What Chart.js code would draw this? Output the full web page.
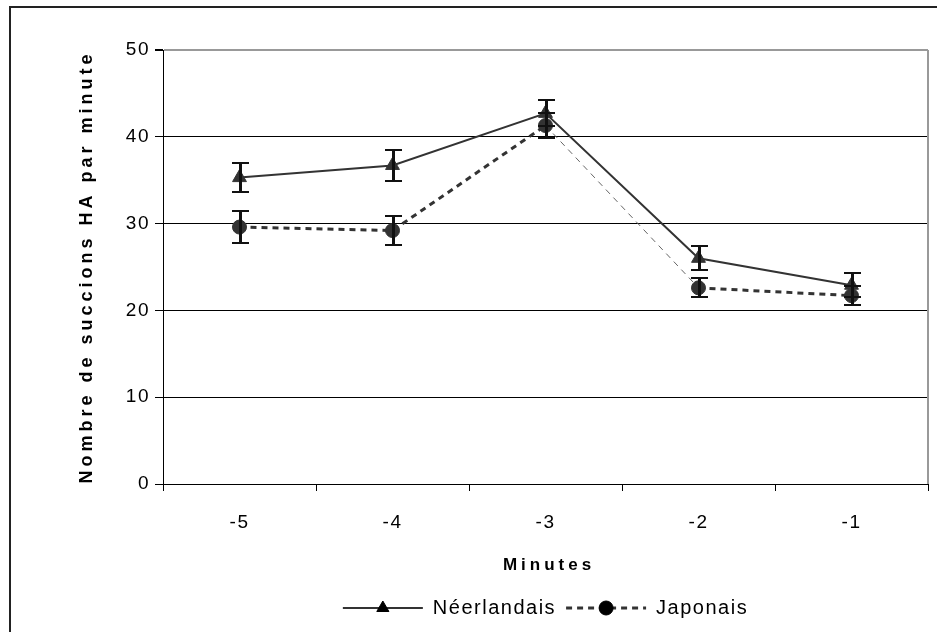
<!DOCTYPE html>
<html>
<head>
<meta charset="utf-8">
<script src="https://cdn.jsdelivr.net/npm/chart.js@4.4.1/dist/chart.umd.min.js"></script>
<style>
    html, body { margin: 0; padding: 0; background: #fff; }
    #wrap { width: 937px; height: 632px; }
</style>
</head>
<body>
<div id="wrap"><canvas id="myChart" width="937" height="632"></canvas></div>
<script>
/* donnees */
const minutes = ['-5', '-4', '-3', '-2', '-1'];
const neerlandais = [35.3, 36.7, 42.7, 26.0, 22.9];
const neerlandaisErr = [1.7, 1.8, 1.5, 1.4, 1.4];
const japonais = [29.6, 29.2, 41.3, 22.6, 21.7];
const japonaisErr = [1.8, 1.7, 1.4, 1.1, 1.1];
const yTitle = 'Nombre de succions HA par minute';
const xTitle = 'Minutes';

const FONT = '"Liberation Sans", Arial, sans-serif';
const INK = '#333';
const SPACING = '1.5px';

/* cadre exterieur + espacement des lettres des graduations / legende */
const framePlugin = {
    id: 'frame',
    beforeUpdate(chart) {
        chart.ctx.letterSpacing = SPACING;
    },
    beforeDraw(chart) {
        const ctx = chart.ctx;
        ctx.save();
        ctx.fillStyle = '#fff';
        ctx.fillRect(0, 0, chart.width, chart.height);
        ctx.strokeStyle = '#222';
        ctx.lineWidth = 2;
        ctx.strokeRect(10, 7, chart.width + 20, chart.height + 20);
        ctx.restore();
        ctx.letterSpacing = SPACING;
    },
    beforeDatasetsDraw(chart) {
        chart.ctx.letterSpacing = '0px';
    },
    afterDraw(chart) {
        // bord droit gris de la zone de trace
        const a = chart.chartArea;
        const ctx = chart.ctx;
        ctx.save();
        ctx.strokeStyle = '#999';
        ctx.lineWidth = 2;
        ctx.beginPath();
        ctx.moveTo(a.right, a.top);
        ctx.lineTo(a.right, a.bottom);
        ctx.stroke();
        ctx.restore();
    }
};

/* barres d'erreur */
const errorBarsPlugin = {
    id: 'errorBars',
    afterDatasetsDraw(chart) {
        const ctx = chart.ctx;
        const y = chart.scales.y;
        const errs = [neerlandaisErr, japonaisErr];
        ctx.save();
        ctx.strokeStyle = '#111';
        chart.data.datasets.forEach(function(ds, d) {
            const meta = chart.getDatasetMeta(d);
            meta.data.forEach(function(pt, i) {
                const v = ds.data[i];
                const top = Math.round(y.getPixelForValue(v + errs[d][i]));
                const bot = Math.round(y.getPixelForValue(v - errs[d][i]));
                const x = Math.round(pt.x);
                ctx.lineWidth = 3;
                ctx.beginPath();
                ctx.moveTo(x + 0.5, top);
                ctx.lineTo(x + 0.5, bot);
                ctx.stroke();
                ctx.lineWidth = 2;
                ctx.beginPath();
                ctx.moveTo(x - 8, top);
                ctx.lineTo(x + 9, top);
                ctx.moveTo(x - 8, bot);
                ctx.lineTo(x + 9, bot);
                ctx.stroke();
            });
        });
        ctx.restore();
    }
};

/* titres des axes (espacement des lettres) + symboles de la legende */
const titlesPlugin = {
    id: 'titles',
    afterDraw(chart) {
        const ctx = chart.ctx;
        const a = chart.chartArea;
        ctx.save();
        ctx.fillStyle = '#000';
        ctx.font = 'bold 18px ' + FONT;
        ctx.letterSpacing = '4px';
        ctx.textAlign = 'center';
        ctx.textBaseline = 'middle';
        ctx.translate(87, (a.top + a.bottom) / 2 + 2);
        ctx.rotate(-Math.PI / 2);
        ctx.fillText(yTitle, 2, 0);
        ctx.restore();

        ctx.save();
        ctx.fillStyle = '#000';
        ctx.font = 'bold 17px ' + FONT;
        ctx.letterSpacing = '4px';
        ctx.textAlign = 'center';
        ctx.textBaseline = 'middle';
        ctx.fillText(xTitle, 549, 565);
        ctx.restore();

        const legend = chart.legend;
        const opts = legend.options.labels;
        ctx.save();
        legend.legendHitBoxes.forEach(function(box, i) {
            const ds = chart.data.datasets[i];
            Chart.helpers.drawPoint(ctx, {
                pointStyle: ds.pointStyle,
                radius: 7,
                rotation: 0,
                borderWidth: 1
            }, box.left + opts.boxWidth / 2, box.top + opts.font.size / 2);
        });
        ctx.restore();
        ctx.letterSpacing = '0px';
    }
};

const ctx = document.getElementById('myChart').getContext('2d');
const myChart = new Chart(ctx, {
    type: 'line',
    data: {
        labels: minutes,
        datasets: [{
            label: 'Néerlandais',
            data: neerlandais,
            borderColor: INK,
            backgroundColor: INK,
            borderWidth: 2,
            pointStyle: 'triangle',
            pointRadius: 8,
            pointBorderWidth: 1,
            tension: 0
        }, {
            label: 'Japonais',
            data: japonais,
            borderColor: INK,
            backgroundColor: INK,
            borderWidth: 3,
            borderDash: [6, 5],
            pointStyle: 'circle',
            pointRadius: 7,
            pointBorderWidth: 1,
            tension: 0,
            segment: {
                borderWidth: c => c.p0DataIndex === 2 ? 1 : 3,
                borderColor: c => c.p0DataIndex === 2 ? '#666' : INK
            }
        }]
    },
    options: {
        responsive: false,
        animation: false,
        layout: {
            padding: { top: 50, right: 9, left: 0, bottom: 4 }
        },
        scales: {
            x: {
                offset: true,
                afterFit(scale) { scale.height = 104; },
                grid: {
                    offset: true,
                    drawOnChartArea: false,
                    color: '#000',
                    tickLength: 7
                },
                border: { color: '#000', width: 1 },
                ticks: {
                    color: '#000',
                    padding: 20,
                    font: { family: FONT, size: 19 }
                }
            },
            y: {
                min: 0,
                max: 50,
                afterFit(scale) { scale.width = 163; },
                grid: {
                    color: c => c.tick.value === 50 ? '#999' : '#000',
                    lineWidth: c => c.tick.value === 50 ? 2 : 1,
                    tickColor: '#000',
                    tickLength: 8
                },
                border: { color: '#000', width: 1 },
                ticks: {
                    stepSize: 10,
                    color: '#000',
                    padding: 5,
                    font: { family: FONT, size: 19 }
                }
            }
        },
        plugins: {
            legend: {
                position: 'bottom',
                fullSize: false,
                labels: {
                    boxWidth: 80,
                    boxHeight: 0,
                    padding: 10,
                    color: '#000',
                    font: { family: FONT, size: 20 }
                }
            },
            tooltip: { enabled: false }
        }
    },
    plugins: [framePlugin, errorBarsPlugin, titlesPlugin]
});
</script>
</body>
</html>
